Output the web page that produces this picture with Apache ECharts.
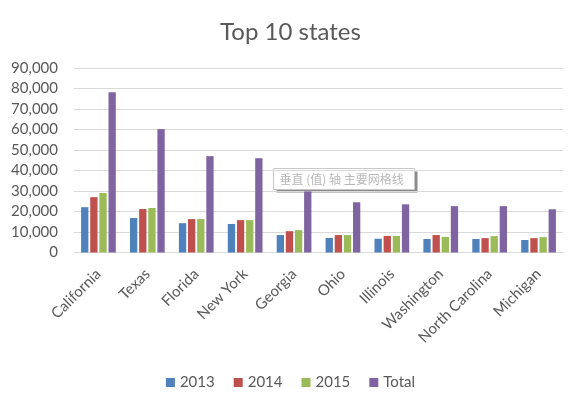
<!DOCTYPE html>
<html><head><meta charset="utf-8">
<script src="https://cdn.jsdelivr.net/npm/echarts@6/dist/echarts.min.js"></script>
<style>html,body{margin:0;padding:0;background:#fff}#c{width:581px;height:404px}</style>
</head><body><div id="c"></div>
<script>
const categories = ['California','Texas','Florida','New York','Georgia','Ohio','Illinois','Washington','North Carolina','Michigan'];
const s2013 = [22100,16800,14300,13900,8500,7100,6700,6600,6600,6100];
const s2014 = [27000,21200,16300,15800,10400,8500,8100,8500,7000,7000];
const s2015 = [29000,21700,16300,15800,10900,8500,8100,7600,8000,7500];
const sTotal = [78200,60200,47000,46000,29800,24500,23500,22600,22600,21100];
const seriesNames = ['2013','2014','2015','Total'];
const colors = ['#4F81BD','#C0504D','#9BBB59','#8064A2'];
const FONT = 'Lato';
const chart = echarts.init(document.getElementById('c'));
const data = [s2013,s2014,s2015,sTotal];
chart.setOption({
  animation:false,
  color: colors,
  title:{text:'Top 10 states',left:'center',top:15,textStyle:{fontFamily:FONT,fontSize:24,fontWeight:'normal',color:'#595959'}},
  grid:{left:74,right:18,top:68,bottom:151.5,containLabel:false},
  legend:{bottom:9,left:'center',itemWidth:9,itemHeight:9,itemGap:19,icon:'rect',
    textStyle:{fontFamily:FONT,fontSize:15,color:'#595959'},data:seriesNames},
  xAxis:{type:'category',data:categories,
    axisLine:{lineStyle:{color:'#D9D9D9'}},axisTick:{show:false},
    axisLabel:{rotate:45,interval:0,fontFamily:FONT,fontSize:15,color:'#595959',margin:19}},
  yAxis:{type:'value',min:0,max:90000,interval:10000,
    axisLine:{show:false},axisTick:{show:false},
    splitLine:{lineStyle:{color:'#D9D9D9'}},
    axisLabel:{fontFamily:FONT,fontSize:15,color:'#595959',margin:16,
      formatter:v=>v.toLocaleString('en-US')}},
  series: seriesNames.map((n,i)=>({name:n,type:'bar',data:data[i],barGap:'25%',barCategoryGap:'29%'})),
  graphic:[{type:'group',left:273,top:168,z:100,children:[
    {type:'rect',shape:{x:3,y:3,width:141,height:21},style:{fill:'#8a8a8a'}},
    {type:'rect',shape:{x:0,y:0,width:141,height:21},style:{fill:'#fff',stroke:'#c8c8c8',lineWidth:1}},
    {type:'text',style:{x:6,y:11,text:'垂直 (值) 轴 主要网格线',verticalAlign:'middle',fill:'#b8b8b8',font:'12px "Noto Sans CJK SC"'}}
  ]}]
});
</script></body></html>
